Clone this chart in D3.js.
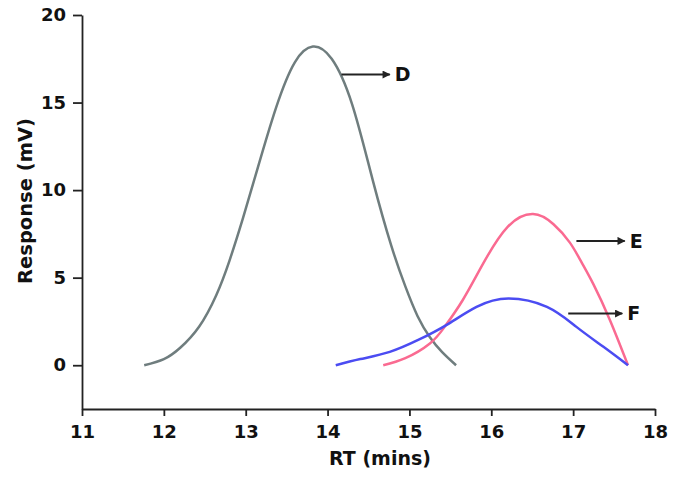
<!DOCTYPE html>
<html lang="en">
<head>
<meta charset="utf-8" />
<script src="https://cdnjs.cloudflare.com/ajax/libs/d3/7.8.5/d3.min.js"></script>
<style>
  body { margin: 0; background: #fff; }
  svg text { font-family: "DejaVu Sans", "Liberation Sans", Arial, sans-serif; font-weight: bold; fill: #111; }
  .axis path, .axis line { stroke: #222; stroke-width: 1.8; }
</style>
</head>
<body>
<div id="chart"></div>
<script>
// peaks: [RT (mins), response (mV)]
var peakD = [[11.76,0],[12.0,0.35],[12.2,1.0],[12.43,2.2],[12.64,4.0],[12.8,5.95],[12.96,8.3],
  [13.13,11.0],[13.37,14.7],[13.6,17.3],[13.82,18.2],[14.05,17.5],[14.3,14.9],[14.55,10.6],
  [14.78,6.8],[14.95,4.5],[15.1,2.8],[15.25,1.6],[15.4,0.75],[15.57,0]];
var peakE = [[14.68,0],[14.95,0.4],[15.25,1.24],[15.43,2.19],[15.65,3.71],[15.9,5.8],[16.2,7.9],
  [16.51,8.63],[16.76,8.05],[16.96,7.0],[17.1,5.9],[17.25,4.6],[17.45,2.57],[17.67,0]];
var peakF = [[14.1,0],[14.4,0.35],[14.76,0.76],[15.12,1.47],[15.45,2.29],[15.82,3.33],[16.21,3.81],
  [16.68,3.33],[17.04,2.19],[17.37,1.05],[17.67,0]];

var xTicks = [11, 12, 13, 14, 15, 16, 17, 18];
var yTicks = [0, 5, 10, 15, 20];

// arrow labels: [x1, x2, y, label] in data units
var labels = [[14.17, 14.76, 16.6, "D"], [17.04, 17.63, 7.1, "E"], [16.94, 17.6, 2.95, "F"]];
var colors = ["#6f7d7e", "#fa6a91", "#4b4cf2"];

var width = 687, height = 477;
var svg = d3.select("#chart").append("svg")
  .attr("width", width).attr("height", height);

var x = d3.scaleLinear().domain([11, 18]).range([82, 655]);
var y = d3.scaleLinear().domain([-2.5, 20]).range([409, 15]);

svg.append("defs").append("marker")
  .attr("id", "head")
  .attr("viewBox", "0 0 10 10")
  .attr("refX", 9).attr("refY", 5)
  .attr("markerWidth", 5.5).attr("markerHeight", 4)
  .attr("markerUnits", "strokeWidth")
  .attr("orient", "auto")
  .append("path").attr("d", "M0,0 L10,5 L0,10 z").attr("fill", "#222");

var xAxis = svg.append("g").attr("class", "axis")
  .attr("transform", "translate(0," + y(-2.5) + ")")
  .call(d3.axisBottom(x).tickValues(xTicks).tickSize(7).tickSizeOuter(0).tickFormat(d3.format("d")));
xAxis.selectAll("text").style("font-size", "18px").attr("y", 12).attr("dy", "0.95em");

var yAxis = svg.append("g").attr("class", "axis")
  .attr("transform", "translate(" + x(11) + ",0)")
  .call(d3.axisLeft(y).tickValues(yTicks).tickSize(9).tickSizeOuter(0).tickFormat(d3.format("d")));
yAxis.selectAll("text").style("font-size", "18px").attr("x", -16);

svg.append("text")
  .attr("x", 380).attr("y", 465)
  .attr("text-anchor", "middle")
  .style("font-size", "19px")
  .text("RT (mins)");

svg.append("text")
  .attr("transform", "translate(32,201) rotate(-90)")
  .attr("text-anchor", "middle")
  .style("font-size", "19.5px")
  .text("Response (mV)");

var line = d3.line()
  .x(function (d) { return x(d[0]); })
  .y(function (d) { return y(d[1]); })
  .curve(d3.curveNatural);

[peakD, peakE, peakF].forEach(function (s, i) {
  svg.append("path")
    .datum(s)
    .attr("fill", "none")
    .attr("stroke", colors[i])
    .attr("stroke-width", 2.5)
    .attr("d", line);
});

labels.forEach(function (l) {
  svg.append("line")
    .attr("x1", x(l[0])).attr("x2", x(l[1]))
    .attr("y1", y(l[2])).attr("y2", y(l[2]))
    .attr("stroke", "#222").attr("stroke-width", 2)
    .attr("marker-end", "url(#head)");
  svg.append("text")
    .attr("x", x(l[1]) + 5).attr("y", y(l[2]))
    .attr("dy", "0.36em")
    .style("font-size", "19px")
    .text(l[3]);
});
</script>
</body>
</html>
